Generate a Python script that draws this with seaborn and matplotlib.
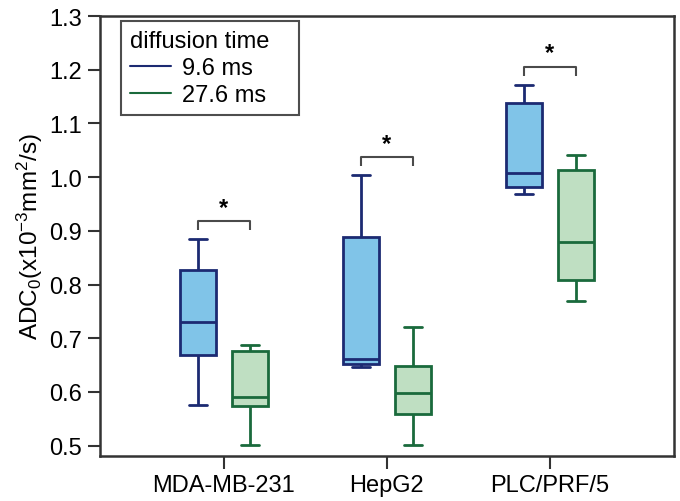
import matplotlib
matplotlib.use("Agg")
import matplotlib.pyplot as plt
import seaborn as sns
import pandas as pd
from matplotlib.lines import Line2D

# ---- data (five-number summaries: min, Q1, median, Q3, max)
cells = ["MDA-MB-231", "HepG2", "PLC/PRF/5"]
times = ["9.6 ms", "27.6 ms"]
short_time = {
    "MDA-MB-231": [0.575, 0.669, 0.731, 0.828, 0.884],
    "HepG2": [0.647, 0.652, 0.662, 0.889, 1.004],
    "PLC/PRF/5": [0.968, 0.981, 1.008, 1.139, 1.172],
}
long_time = {
    "MDA-MB-231": [0.502, 0.573, 0.590, 0.676, 0.687],
    "HepG2": [0.502, 0.559, 0.598, 0.649, 0.721],
    "PLC/PRF/5": [0.770, 0.808, 0.879, 1.014, 1.042],
}
yticks = [0.5, 0.6, 0.7, 0.8, 0.9, 1.0, 1.1, 1.2, 1.3]

rows = []
for c in cells:
    for v in short_time[c]:
        rows.append((c, times[0], v))
    for v in long_time[c]:
        rows.append((c, times[1], v))
df = pd.DataFrame(rows, columns=["cell", "time", "value"])

fill = {times[0]: "#80c4e8", times[1]: "#bfdfc2"}
edge = {times[0]: "#1c2a72", times[1]: "#1a6a3c"}

sns.set_style("white")
plt.rcParams["font.family"] = ["Liberation Sans", "DejaVu Sans"]
plt.rcParams["mathtext.default"] = "regular"
plt.rcParams["text.color"] = "black"
plt.rcParams["axes.labelcolor"] = "black"
plt.rcParams["xtick.color"] = "black"
plt.rcParams["ytick.color"] = "black"

fig = plt.figure(figsize=(6.8, 5.02), dpi=100)
ax = fig.add_axes([0.147, 0.090, 0.844, 0.876])

W = 0.64
GAP = 0.3
sns.boxplot(data=df, x="cell", y="value", hue="time", order=cells, hue_order=times,
            palette=fill, saturation=1, width=W, gap=GAP, whis=(0, 100), dodge=True,
            linewidth=2.0, showfliers=False, ax=ax, legend=False)

n = len(cells)
for j, t in enumerate(times):
    for k in range(n):
        ax.patches[j * n + k].set_edgecolor(edge[t])
lines = ax.lines
per = len(lines) // (2 * n)
for j, t in enumerate(times):
    for k in range(n):
        for m in range(per):
            lines[(j * n + k) * per + m].set_color(edge[t])

# significance brackets
off = W / 4
for k, c in enumerate(cells):
    top = max(max(short_time[c]), max(long_time[c]))
    yb = top + 0.034
    ax.plot([k - off, k - off, k + off, k + off], [yb - 0.017, yb, yb, yb - 0.017],
            color="#4a4a4a", lw=1.5, solid_capstyle="butt")
    ax.text(k, yb + 0.004, "*", ha="center", va="bottom", fontsize=17,
            fontweight="bold", color="black")

ax.set_xlim(-0.76, 2.76)
ax.set_ylim(0.481, 1.3)
ax.set_yticks(yticks)
ax.set_yticklabels([f"{v:.1f}" for v in yticks])
ax.set_xlabel("")
ax.set_ylabel("ADC$_0$(x10$^{-3}$mm$^2$/s)", fontsize=17.5, labelpad=3)
ax.tick_params(axis="both", which="major", labelsize=17, length=9, width=1.5,
               color="#333333", direction="out", left=True, bottom=True, pad=4)
for s in ax.spines.values():
    s.set_linewidth(1.8)
    s.set_color("#333333")

handles = [Line2D([0], [0], color=edge[t], lw=1.5) for t in times]
leg = ax.legend(handles, times, title="diffusion time" + " " * 3, loc="upper left",
                bbox_to_anchor=(0.036, 0.989), borderaxespad=0, fontsize=17,
                title_fontsize=17, frameon=True, fancybox=False, handlelength=1.75,
                handletextpad=0.45, labelspacing=0.2, borderpad=0.4)
leg._legend_box.align = "left"
leg.get_frame().set_edgecolor("#222222")
leg.get_frame().set_linewidth(1.5)

fig.savefig("out.png", dpi=100)
